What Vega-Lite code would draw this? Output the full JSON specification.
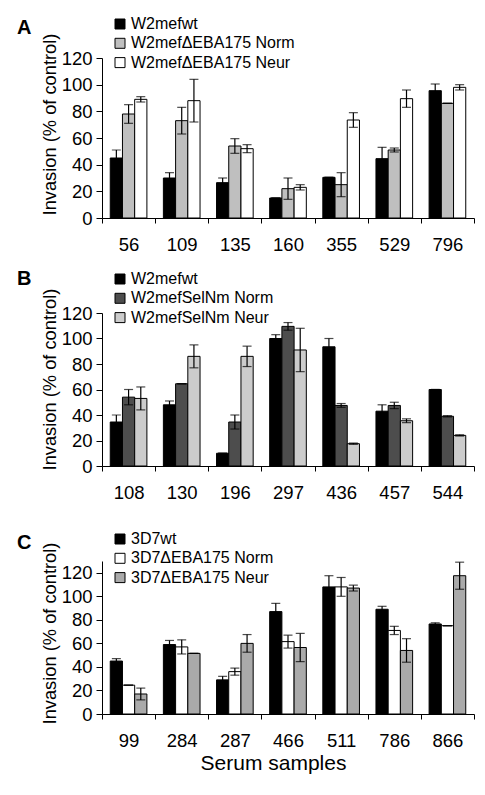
{
  "$schema": "https://vega.github.io/schema/vega-lite/v6.json",
  "background": "white",
  "autosize": {"type": "pad"},
  "padding": {"left": 17, "top": 16, "right": 5, "bottom": 5},
  "bounds": "flush",
  "spacing": 95,
  "config": {
    "font": "Liberation Sans",
    "view": {"stroke": null},
    "axis": {
      "grid": false,
      "domainColor": "black",
      "tickColor": "black",
      "labelColor": "black",
      "titleColor": "black",
      "labelFont": "Liberation Sans",
      "titleFont": "Liberation Sans",
      "titleFontWeight": "normal",
      "labelFontSize": 18.5,
      "labelOverlap": false,
      "domainWidth": 1,
      "tickWidth": 1
    },
    "legend": {
      "orient": "none",
      "legendX": 10,
      "legendY": -42,
      "symbolType": "square",
      "symbolSize": 100,
      "symbolStrokeColor": "black",
      "symbolStrokeWidth": 1,
      "labelFontSize": 16,
      "labelFont": "Liberation Sans",
      "labelColor": "black",
      "labelLimit": 0,
      "rowPadding": 3.3,
      "labelOffset": 3,
      "padding": 0
    },
    "title": {
      "anchor": "start",
      "frame": "group",
      "dx": -85,
      "offset": 0,
      "fontSize": 20,
      "fontWeight": "bold",
      "font": "Liberation Sans",
      "color": "black"
    }
  },
  "resolve": {
    "scale": {"x": "independent", "y": "independent", "fill": "independent", "xOffset": "independent"},
    "legend": {"fill": "independent"}
  },
  "vconcat": [
    {
      "width": 372,
      "height": 160,
      "title": {"text": "A", "dy": 26},
      "data": {
        "values": [
          {"serum": "56", "strain": "W2mefwt", "v": 45, "lo": 39, "hi": 51},
          {"serum": "56", "strain": "W2mefΔEBA175 Norm", "v": 78, "lo": 71, "hi": 85},
          {"serum": "56", "strain": "W2mefΔEBA175 Neur", "v": 89, "lo": 87, "hi": 91},
          {"serum": "109", "strain": "W2mefwt", "v": 30, "lo": 26, "hi": 34},
          {"serum": "109", "strain": "W2mefΔEBA175 Norm", "v": 73, "lo": 63, "hi": 83},
          {"serum": "109", "strain": "W2mefΔEBA175 Neur", "v": 88, "lo": 72, "hi": 104},
          {"serum": "135", "strain": "W2mefwt", "v": 26.5, "lo": 23, "hi": 30},
          {"serum": "135", "strain": "W2mefΔEBA175 Norm", "v": 54, "lo": 48.5, "hi": 59.5},
          {"serum": "135", "strain": "W2mefΔEBA175 Neur", "v": 52, "lo": 49, "hi": 55},
          {"serum": "160", "strain": "W2mefwt", "v": 15, "lo": 15, "hi": 15},
          {"serum": "160", "strain": "W2mefΔEBA175 Norm", "v": 22, "lo": 14, "hi": 30},
          {"serum": "160", "strain": "W2mefΔEBA175 Neur", "v": 23, "lo": 21, "hi": 25},
          {"serum": "355", "strain": "W2mefwt", "v": 30.5, "lo": 30.5, "hi": 30.5},
          {"serum": "355", "strain": "W2mefΔEBA175 Norm", "v": 25, "lo": 16, "hi": 34},
          {"serum": "355", "strain": "W2mefΔEBA175 Neur", "v": 73.5, "lo": 68, "hi": 79},
          {"serum": "529", "strain": "W2mefwt", "v": 44.5, "lo": 36, "hi": 53},
          {"serum": "529", "strain": "W2mefΔEBA175 Norm", "v": 51, "lo": 49.5, "hi": 52.5},
          {"serum": "529", "strain": "W2mefΔEBA175 Neur", "v": 89.5, "lo": 83, "hi": 96},
          {"serum": "796", "strain": "W2mefwt", "v": 95.5, "lo": 90.5, "hi": 100.5},
          {"serum": "796", "strain": "W2mefΔEBA175 Norm", "v": 86, "lo": 86, "hi": 86},
          {"serum": "796", "strain": "W2mefΔEBA175 Neur", "v": 98, "lo": 96, "hi": 100}
        ]
      },
      "encoding": {
        "x": {
          "field": "serum", "type": "nominal", "sort": null, "title": null,
          "scale": {"paddingInner": 0, "paddingOuter": 0},
          "axis": {"tickBand": "extent", "labelAngle": 0, "labelPadding": 12, "tickSize": 5}
        },
        "xOffset": {
          "field": "strain", "type": "nominal",
          "sort": ["W2mefwt", "W2mefΔEBA175 Norm", "W2mefΔEBA175 Neur"],
          "scale": {"paddingInner": 0, "paddingOuter": 0.675}
        }
      },
      "layer": [
        {
          "mark": {"type": "bar", "stroke": "black", "strokeWidth": 1},
          "encoding": {
            "y": {
              "field": "v", "type": "quantitative",
              "scale": {"domain": [0, 120], "nice": false},
              "axis": {"values": [0, 20, 40, 60, 80, 100, 120], "labelOverlap": false, "tickSize": 6, "labelPadding": 4, "title": "Invasion (% of control)", "titleFontSize": 18.3, "titleX": -43, "titleY": 66, "titleBaseline": "bottom"}
            },
            "fill": {
              "field": "strain", "type": "nominal",
              "scale": {"domain": ["W2mefwt", "W2mefΔEBA175 Norm", "W2mefΔEBA175 Neur"], "range": ["#000000", "#bfbfbf", "#ffffff"]},
              "legend": {"title": null}
            }
          }
        },
        {
          "mark": {"type": "rule", "color": "black", "strokeWidth": 1.2},
          "encoding": {
            "y": {"field": "lo", "type": "quantitative", "axis": {"values": [0, 20, 40, 60, 80, 100, 120], "labelOverlap": false, "tickSize": 6, "labelPadding": 4, "title": "Invasion (% of control)", "titleFontSize": 18.3, "titleX": -43, "titleY": 66, "titleBaseline": "bottom"}},
            "y2": {"field": "hi"}
          }
        },
        {
          "mark": {"type": "tick", "color": "black", "size": 9, "thickness": 1.2, "orient": "horizontal"},
          "encoding": {"y": {"field": "hi", "type": "quantitative", "axis": {"values": [0, 20, 40, 60, 80, 100, 120], "labelOverlap": false, "tickSize": 6, "labelPadding": 4, "title": "Invasion (% of control)", "titleFontSize": 18.3, "titleX": -43, "titleY": 66, "titleBaseline": "bottom"}}}
        },
        {
          "mark": {"type": "tick", "color": "black", "size": 9, "thickness": 1.2, "orient": "horizontal"},
          "encoding": {"y": {"field": "lo", "type": "quantitative", "axis": {"values": [0, 20, 40, 60, 80, 100, 120], "labelOverlap": false, "tickSize": 6, "labelPadding": 4, "title": "Invasion (% of control)", "titleFontSize": 18.3, "titleX": -43, "titleY": 66, "titleBaseline": "bottom"}}}
        }
      ]
    },
    {
      "width": 372,
      "height": 153,
      "title": {"text": "B", "dy": 22},
      "data": {
        "values": [
          {"serum": "108", "strain": "W2mefwt", "v": 34.5, "lo": 29, "hi": 40},
          {"serum": "108", "strain": "W2mefSelNm Norm", "v": 54, "lo": 48, "hi": 60},
          {"serum": "108", "strain": "W2mefSelNm Neur", "v": 53, "lo": 44, "hi": 62},
          {"serum": "130", "strain": "W2mefwt", "v": 48, "lo": 45, "hi": 51},
          {"serum": "130", "strain": "W2mefSelNm Norm", "v": 64.5, "lo": 64.5, "hi": 64.5},
          {"serum": "130", "strain": "W2mefSelNm Neur", "v": 86, "lo": 77, "hi": 95},
          {"serum": "196", "strain": "W2mefwt", "v": 10, "lo": 10, "hi": 10},
          {"serum": "196", "strain": "W2mefSelNm Norm", "v": 34.5, "lo": 29, "hi": 40},
          {"serum": "196", "strain": "W2mefSelNm Neur", "v": 86, "lo": 78, "hi": 94},
          {"serum": "297", "strain": "W2mefwt", "v": 100, "lo": 97, "hi": 103},
          {"serum": "297", "strain": "W2mefSelNm Norm", "v": 109.5, "lo": 106.5, "hi": 112.5},
          {"serum": "297", "strain": "W2mefSelNm Neur", "v": 91, "lo": 74, "hi": 108},
          {"serum": "436", "strain": "W2mefwt", "v": 93.5, "lo": 87, "hi": 100},
          {"serum": "436", "strain": "W2mefSelNm Norm", "v": 47.5, "lo": 46, "hi": 49},
          {"serum": "436", "strain": "W2mefSelNm Neur", "v": 17.5, "lo": 17, "hi": 18},
          {"serum": "457", "strain": "W2mefwt", "v": 43, "lo": 38, "hi": 48},
          {"serum": "457", "strain": "W2mefSelNm Norm", "v": 47.5, "lo": 45, "hi": 50},
          {"serum": "457", "strain": "W2mefSelNm Neur", "v": 35.5, "lo": 34, "hi": 37},
          {"serum": "544", "strain": "W2mefwt", "v": 60, "lo": 60, "hi": 60},
          {"serum": "544", "strain": "W2mefSelNm Norm", "v": 39, "lo": 38.5, "hi": 39.5},
          {"serum": "544", "strain": "W2mefSelNm Neur", "v": 24, "lo": 23.5, "hi": 24.5}
        ]
      },
      "encoding": {
        "x": {
          "field": "serum", "type": "nominal", "sort": null, "title": null,
          "scale": {"paddingInner": 0, "paddingOuter": 0},
          "axis": {"tickBand": "extent", "labelAngle": 0, "labelPadding": 12, "tickSize": 5}
        },
        "xOffset": {
          "field": "strain", "type": "nominal",
          "sort": ["W2mefwt", "W2mefSelNm Norm", "W2mefSelNm Neur"],
          "scale": {"paddingInner": 0, "paddingOuter": 0.675}
        }
      },
      "layer": [
        {
          "mark": {"type": "bar", "stroke": "black", "strokeWidth": 1},
          "encoding": {
            "y": {
              "field": "v", "type": "quantitative",
              "scale": {"domain": [0, 120], "nice": false},
              "axis": {"values": [0, 20, 40, 60, 80, 100, 120], "labelOverlap": false, "tickSize": 6, "labelPadding": 4, "title": "Invasion (% of control)", "titleFontSize": 18.3, "titleX": -43, "titleY": 66, "titleBaseline": "bottom"}
            },
            "fill": {
              "field": "strain", "type": "nominal",
              "scale": {"domain": ["W2mefwt", "W2mefSelNm Norm", "W2mefSelNm Neur"], "range": ["#000000", "#4d4d4d", "#cccccc"]},
              "legend": {"title": null}
            }
          }
        },
        {
          "mark": {"type": "rule", "color": "black", "strokeWidth": 1.2},
          "encoding": {
            "y": {"field": "lo", "type": "quantitative", "axis": {"values": [0, 20, 40, 60, 80, 100, 120], "labelOverlap": false, "tickSize": 6, "labelPadding": 4, "title": "Invasion (% of control)", "titleFontSize": 18.3, "titleX": -43, "titleY": 66, "titleBaseline": "bottom"}},
            "y2": {"field": "hi"}
          }
        },
        {
          "mark": {"type": "tick", "color": "black", "size": 9, "thickness": 1.2, "orient": "horizontal"},
          "encoding": {"y": {"field": "hi", "type": "quantitative", "axis": {"values": [0, 20, 40, 60, 80, 100, 120], "labelOverlap": false, "tickSize": 6, "labelPadding": 4, "title": "Invasion (% of control)", "titleFontSize": 18.3, "titleX": -43, "titleY": 66, "titleBaseline": "bottom"}}}
        },
        {
          "mark": {"type": "tick", "color": "black", "size": 9, "thickness": 1.2, "orient": "horizontal"},
          "encoding": {"y": {"field": "lo", "type": "quantitative", "axis": {"values": [0, 20, 40, 60, 80, 100, 120], "labelOverlap": false, "tickSize": 6, "labelPadding": 4, "title": "Invasion (% of control)", "titleFontSize": 18.3, "titleX": -43, "titleY": 66, "titleBaseline": "bottom"}}}
        }
      ]
    },
    {
      "width": 372,
      "height": 153,
      "title": {"text": "C", "dy": 26},
      "data": {
        "values": [
          {"serum": "99", "strain": "3D7wt", "v": 45, "lo": 43, "hi": 47},
          {"serum": "99", "strain": "3D7ΔEBA175 Norm", "v": 24.5, "lo": 24.5, "hi": 24.5},
          {"serum": "99", "strain": "3D7ΔEBA175 Neur", "v": 17, "lo": 12, "hi": 22},
          {"serum": "284", "strain": "3D7wt", "v": 59, "lo": 55.5, "hi": 62.5},
          {"serum": "284", "strain": "3D7ΔEBA175 Norm", "v": 57, "lo": 51, "hi": 63},
          {"serum": "284", "strain": "3D7ΔEBA175 Neur", "v": 51.5, "lo": 51.5, "hi": 51.5},
          {"serum": "287", "strain": "3D7wt", "v": 29, "lo": 26, "hi": 32},
          {"serum": "287", "strain": "3D7ΔEBA175 Norm", "v": 36, "lo": 33, "hi": 39},
          {"serum": "287", "strain": "3D7ΔEBA175 Neur", "v": 60, "lo": 52.5, "hi": 67.5},
          {"serum": "466", "strain": "3D7wt", "v": 87, "lo": 80, "hi": 94},
          {"serum": "466", "strain": "3D7ΔEBA175 Norm", "v": 61.5, "lo": 56, "hi": 67},
          {"serum": "466", "strain": "3D7ΔEBA175 Neur", "v": 56.5, "lo": 44.5, "hi": 68.5},
          {"serum": "511", "strain": "3D7wt", "v": 108, "lo": 98.5, "hi": 117.5},
          {"serum": "511", "strain": "3D7ΔEBA175 Norm", "v": 108, "lo": 100, "hi": 116},
          {"serum": "511", "strain": "3D7ΔEBA175 Neur", "v": 107, "lo": 104.5, "hi": 109.5},
          {"serum": "786", "strain": "3D7wt", "v": 89, "lo": 86.5, "hi": 91.5},
          {"serum": "786", "strain": "3D7ΔEBA175 Norm", "v": 71, "lo": 67.5, "hi": 74.5},
          {"serum": "786", "strain": "3D7ΔEBA175 Neur", "v": 54, "lo": 44, "hi": 64},
          {"serum": "866", "strain": "3D7wt", "v": 76.5, "lo": 75.5, "hi": 77.5},
          {"serum": "866", "strain": "3D7ΔEBA175 Norm", "v": 75, "lo": 75, "hi": 75},
          {"serum": "866", "strain": "3D7ΔEBA175 Neur", "v": 117.5, "lo": 106, "hi": 129}
        ]
      },
      "encoding": {
        "x": {
          "field": "serum", "type": "nominal", "sort": null,
          "scale": {"paddingInner": 0, "paddingOuter": 0},
          "axis": {"tickBand": "extent", "labelAngle": 0, "labelPadding": 12, "tickSize": 5, "title": "Serum samples", "titleFontSize": 21, "titlePadding": 3, "titleX": 171}
        },
        "xOffset": {
          "field": "strain", "type": "nominal",
          "sort": ["3D7wt", "3D7ΔEBA175 Norm", "3D7ΔEBA175 Neur"],
          "scale": {"paddingInner": 0, "paddingOuter": 0.675}
        }
      },
      "layer": [
        {
          "mark": {"type": "bar", "stroke": "black", "strokeWidth": 1},
          "encoding": {
            "y": {
              "field": "v", "type": "quantitative",
              "scale": {"domain": [0, 130], "nice": false},
              "axis": {"values": [0, 20, 40, 60, 80, 100, 120], "labelOverlap": false, "tickSize": 6, "labelPadding": 4, "title": "Invasion (% of control)", "titleFontSize": 18.3, "titleX": -43, "titleY": 72, "titleBaseline": "bottom"}
            },
            "fill": {
              "field": "strain", "type": "nominal",
              "scale": {"domain": ["3D7wt", "3D7ΔEBA175 Norm", "3D7ΔEBA175 Neur"], "range": ["#000000", "#ffffff", "#aaaaaa"]},
              "legend": {"title": null, "legendY": -30}
            }
          }
        },
        {
          "mark": {"type": "rule", "color": "black", "strokeWidth": 1.2},
          "encoding": {
            "y": {"field": "lo", "type": "quantitative", "axis": {"values": [0, 20, 40, 60, 80, 100, 120], "labelOverlap": false, "tickSize": 6, "labelPadding": 4, "title": "Invasion (% of control)", "titleFontSize": 18.3, "titleX": -43, "titleY": 72, "titleBaseline": "bottom"}},
            "y2": {"field": "hi"}
          }
        },
        {
          "mark": {"type": "tick", "color": "black", "size": 9, "thickness": 1.2, "orient": "horizontal"},
          "encoding": {"y": {"field": "hi", "type": "quantitative", "axis": {"values": [0, 20, 40, 60, 80, 100, 120], "labelOverlap": false, "tickSize": 6, "labelPadding": 4, "title": "Invasion (% of control)", "titleFontSize": 18.3, "titleX": -43, "titleY": 72, "titleBaseline": "bottom"}}}
        },
        {
          "mark": {"type": "tick", "color": "black", "size": 9, "thickness": 1.2, "orient": "horizontal"},
          "encoding": {"y": {"field": "lo", "type": "quantitative", "axis": {"values": [0, 20, 40, 60, 80, 100, 120], "labelOverlap": false, "tickSize": 6, "labelPadding": 4, "title": "Invasion (% of control)", "titleFontSize": 18.3, "titleX": -43, "titleY": 72, "titleBaseline": "bottom"}}}
        }
      ]
    }
  ]
}
